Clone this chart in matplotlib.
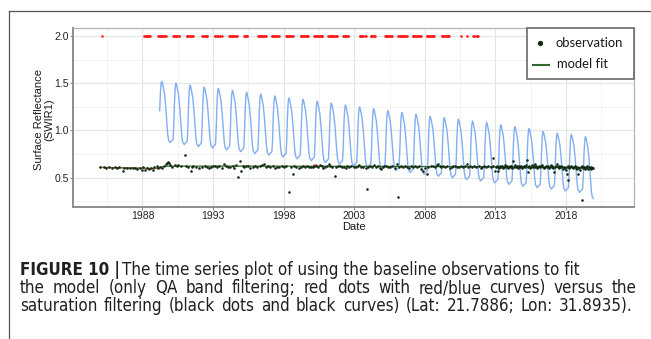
import matplotlib
matplotlib.use("Agg")
import os
import matplotlib.pyplot as plt
from matplotlib.ticker import MultipleLocator, FuncFormatter
from matplotlib.patches import Rectangle
from matplotlib.lines import Line2D
from matplotlib import font_manager
from matplotlib.font_manager import FontProperties

# ---------------- data ----------------
x_major_ticks = [1988, 1993, 1998, 2003, 2008, 2013, 2018]
y_major_ticks = [0.5, 1.0, 1.5, 2.0]

# saturated (QA-only) observations shown in red at 2.0
red_dates = [1985.15,
    1988.13, 1988.18, 1988.22, 1988.31, 1988.35, 1988.40, 1988.49, 1988.53,
    1989.12, 1989.16, 1989.25, 1989.29, 1989.34, 1989.38, 1989.47, 1989.51, 1989.60, 1989.66,
    1990.18, 1990.23, 1990.27, 1990.36, 1990.40, 1990.45, 1990.56, 1990.61,
    1991.13, 1991.18, 1991.22, 1991.31, 1991.40, 1991.44, 1991.53, 1991.60,
    1992.24, 1992.29, 1992.33, 1992.42, 1992.50, 1992.55, 1992.59,
    1993.13, 1993.17, 1993.26, 1993.30, 1993.35, 1993.48, 1993.52, 1993.61,
    1994.15, 1994.20, 1994.24, 1994.33, 1994.37, 1994.42, 1994.50, 1994.55, 1994.63, 1994.67,
    1995.19, 1995.24, 1995.32, 1995.37, 1995.42,
    1996.20, 1996.24, 1996.29, 1996.38, 1996.42, 1996.47, 1996.55, 1996.60, 1996.69, 1996.75,
    1997.15, 1997.20, 1997.24, 1997.33, 1997.37, 1997.46, 1997.50, 1997.58, 1997.67,
    1998.16, 1998.21, 1998.25, 1998.34, 1998.38, 1998.47, 1998.51, 1998.60, 1998.64,
    1999.20, 1999.24, 1999.29, 1999.37, 1999.42, 1999.46, 1999.55, 1999.59, 1999.68, 1999.72,
    2000.15, 2000.20, 2000.24, 2000.33, 2000.37, 2000.42, 2000.50, 2000.55, 2000.63, 2000.68, 2000.72,
    2001.16, 2001.21, 2001.25, 2001.34, 2001.38, 2001.43, 2001.51, 2001.56, 2001.65, 2001.69, 2001.74, 2001.80,
    2002.22, 2002.27, 2002.31, 2002.40, 2002.44, 2002.53, 2002.58,
    2003.40, 2003.44, 2003.49, 2003.58, 2003.62, 2003.75, 2003.83,
    2004.16, 2004.21, 2004.29, 2004.34, 2004.42, 2004.47,
    2005.17, 2005.22, 2005.26, 2005.35, 2005.39, 2005.44, 2005.52, 2005.57, 2005.65,
    2006.12, 2006.17, 2006.21, 2006.30, 2006.34, 2006.39, 2006.47, 2006.52, 2006.60, 2006.65, 2006.71,
    2007.14, 2007.19, 2007.23, 2007.32, 2007.36, 2007.41, 2007.49, 2007.54, 2007.62, 2007.66, 2007.70,
    2008.13, 2008.17, 2008.22, 2008.30, 2008.35, 2008.43, 2008.48, 2008.56, 2008.61, 2008.65,
    2009.19, 2009.23, 2009.28, 2009.36, 2009.41, 2009.49, 2009.54, 2009.62, 2009.67, 2009.73,
    2010.54, 2010.96,
    2011.43, 2011.48, 2011.65, 2011.70, 2011.78]
red_value = 2.0
red_low_dates = [2000.18, 2000.26]
red_low_vals = [0.632, 0.636]

# observations kept after saturation filtering (date, value)
obs_1985_1990 = [(1985.02, 0.617), (1985.25, 0.610), (1985.45, 0.605), (1985.60, 0.612), (1985.85, 0.608),
    (1986.05, 0.610), (1986.20, 0.603), (1986.35, 0.612), (1986.62, 0.575), (1986.70, 0.605),
    (1986.90, 0.600), (1987.10, 0.607), (1987.30, 0.598), (1987.45, 0.602), (1987.60, 0.590),
    (1987.80, 0.600), (1987.95, 0.585), (1988.05, 0.610), (1988.20, 0.580), (1988.32, 0.600),
    (1988.45, 0.595), (1988.60, 0.600), (1988.75, 0.585), (1988.85, 0.610), (1989.00, 0.620),
    (1989.10, 0.600), (1989.25, 0.615), (1989.40, 0.608), (1989.55, 0.620), (1989.65, 0.645),
    (1989.72, 0.660), (1989.80, 0.670), (1989.90, 0.655), (1989.95, 0.630)]
obs_1990_2000 = [(1990.10, 0.615), (1990.30, 0.630), (1990.45, 0.625), (1990.55, 0.635), (1990.75, 0.620),
    (1991.00, 0.745), (1991.10, 0.625), (1991.25, 0.615), (1991.41, 0.567), (1991.50, 0.610),
    (1991.60, 0.620), (1991.80, 0.612), (1992.00, 0.605), (1992.20, 0.615), (1992.40, 0.620),
    (1992.55, 0.610), (1992.70, 0.600), (1992.85, 0.615), (1993.00, 0.625), (1993.15, 0.620),
    (1993.30, 0.610), (1993.45, 0.620), (1993.60, 0.605), (1993.80, 0.640), (1993.90, 0.625),
    (1994.05, 0.615), (1994.20, 0.610), (1994.40, 0.620), (1994.50, 0.600), (1994.62, 0.630),
    (1994.76, 0.503), (1994.90, 0.680), (1995.00, 0.570), (1995.10, 0.620), (1995.20, 0.610),
    (1995.35, 0.620), (1995.50, 0.625), (1995.65, 0.605), (1995.80, 0.615), (1995.95, 0.620),
    (1996.10, 0.610), (1996.30, 0.625), (1996.45, 0.635), (1996.60, 0.640), (1996.75, 0.610),
    (1996.90, 0.620), (1997.05, 0.615), (1997.25, 0.620), (1997.40, 0.600), (1997.55, 0.610),
    (1997.70, 0.615), (1997.90, 0.620), (1998.00, 0.610), (1998.20, 0.620), (1998.38, 0.354),
    (1998.50, 0.615), (1998.66, 0.540), (1998.75, 0.620), (1998.90, 0.610), (1999.05, 0.605),
    (1999.20, 0.615), (1999.35, 0.620), (1999.50, 0.610), (1999.65, 0.625), (1999.80, 0.615),
    (1999.95, 0.610)]
obs_2000_2013 = [(2000.05, 0.615), (2000.15, 0.620), (2000.30, 0.625), (2000.40, 0.610), (2000.55, 0.630),
    (2000.70, 0.620), (2000.80, 0.605), (2000.95, 0.615), (2001.05, 0.620), (2001.20, 0.640),
    (2001.30, 0.625), (2001.45, 0.610), (2001.60, 0.520), (2001.70, 0.615), (2001.85, 0.620),
    (2002.00, 0.625), (2002.10, 0.610), (2002.25, 0.615), (2002.40, 0.600), (2002.50, 0.620),
    (2002.65, 0.615), (2002.80, 0.625), (2002.95, 0.610), (2003.10, 0.615), (2003.25, 0.625),
    (2003.35, 0.630), (2003.50, 0.615), (2003.65, 0.610), (2003.80, 0.600), (2003.93, 0.380),
    (2004.00, 0.615), (2004.10, 0.620), (2004.25, 0.610), (2004.40, 0.630), (2004.55, 0.615),
    (2004.65, 0.620), (2004.80, 0.605), (2004.90, 0.590), (2005.00, 0.615), (2005.10, 0.620),
    (2005.25, 0.625), (2005.40, 0.610), (2005.55, 0.615), (2005.70, 0.620), (2005.85, 0.600),
    (2006.00, 0.640), (2006.07, 0.300), (2006.15, 0.615), (2006.30, 0.620), (2006.45, 0.610),
    (2006.60, 0.625), (2006.75, 0.615), (2006.90, 0.605), (2007.00, 0.620), (2007.15, 0.615),
    (2007.30, 0.625), (2007.45, 0.610), (2007.60, 0.620), (2007.75, 0.590), (2007.90, 0.570),
    (2008.00, 0.600), (2008.13, 0.540), (2008.25, 0.615), (2008.40, 0.620), (2008.55, 0.625),
    (2008.70, 0.610), (2008.85, 0.630), (2008.95, 0.650), (2009.05, 0.620), (2009.15, 0.615),
    (2009.30, 0.625), (2009.45, 0.610), (2009.60, 0.620), (2009.75, 0.605), (2009.90, 0.615),
    (2010.00, 0.620), (2010.10, 0.625), (2010.25, 0.610), (2010.40, 0.615), (2010.55, 0.620),
    (2010.70, 0.610), (2010.85, 0.625), (2010.96, 0.640), (2011.05, 0.615), (2011.20, 0.620),
    (2011.35, 0.610), (2011.50, 0.625), (2011.65, 0.615), (2011.80, 0.620), (2011.95, 0.605),
    (2012.05, 0.615), (2012.20, 0.620), (2012.35, 0.610), (2012.50, 0.625), (2012.65, 0.615),
    (2012.79, 0.710), (2012.85, 0.620), (2012.96, 0.575)]
obs_2013_2020 = [(2013.05, 0.610), (2013.10, 0.620), (2013.16, 0.567), (2013.20, 0.615), (2013.27, 0.605),
    (2013.33, 0.625), (2013.40, 0.610), (2013.47, 0.620), (2013.53, 0.600), (2013.60, 0.615),
    (2013.67, 0.630), (2013.73, 0.610), (2013.80, 0.620), (2013.87, 0.605), (2013.93, 0.615),
    (2014.00, 0.625), (2014.07, 0.610), (2014.13, 0.620), (2014.20, 0.600), (2014.24, 0.680),
    (2014.30, 0.615), (2014.37, 0.630), (2014.43, 0.610), (2014.50, 0.620), (2014.57, 0.605),
    (2014.63, 0.615), (2014.70, 0.625), (2014.77, 0.610), (2014.83, 0.620), (2014.90, 0.600),
    (2014.97, 0.615), (2015.03, 0.625), (2015.10, 0.610), (2015.17, 0.630), (2015.21, 0.690),
    (2015.27, 0.615), (2015.32, 0.556), (2015.37, 0.620), (2015.43, 0.605), (2015.50, 0.615),
    (2015.57, 0.630), (2015.63, 0.610), (2015.70, 0.625), (2015.77, 0.640), (2015.83, 0.615),
    (2015.90, 0.620), (2015.97, 0.600), (2016.03, 0.615), (2016.10, 0.625), (2016.17, 0.610),
    (2016.23, 0.620), (2016.30, 0.635), (2016.37, 0.610), (2016.43, 0.600), (2016.50, 0.615),
    (2016.57, 0.625), (2016.63, 0.610), (2016.70, 0.620), (2016.77, 0.600), (2016.83, 0.615),
    (2016.90, 0.630), (2016.97, 0.610), (2017.03, 0.620), (2017.10, 0.605), (2017.16, 0.556),
    (2017.22, 0.615), (2017.28, 0.625), (2017.33, 0.640), (2017.40, 0.610), (2017.47, 0.620),
    (2017.53, 0.600), (2017.60, 0.615), (2017.67, 0.625), (2017.73, 0.610), (2017.80, 0.595),
    (2017.87, 0.615), (2017.93, 0.600), (2018.00, 0.580), (2018.04, 0.540), (2018.08, 0.610),
    (2018.11, 0.475), (2018.15, 0.620), (2018.22, 0.605), (2018.28, 0.615), (2018.35, 0.625),
    (2018.42, 0.610), (2018.48, 0.600), (2018.55, 0.615), (2018.62, 0.620), (2018.68, 0.605),
    (2018.75, 0.595), (2018.80, 0.610), (2018.86, 0.540), (2018.92, 0.600), (2018.98, 0.580),
    (2019.04, 0.615), (2019.10, 0.263), (2019.14, 0.620), (2019.20, 0.600), (2019.26, 0.610),
    (2019.32, 0.590), (2019.38, 0.615), (2019.44, 0.600), (2019.50, 0.620), (2019.56, 0.595),
    (2019.62, 0.610), (2019.68, 0.600), (2019.74, 0.615), (2019.80, 0.590), (2019.86, 0.605),
    (2019.93, 0.600)]

# model fit after saturation filtering (dark green) and QA-only fit (red / blue)
model_dates = [1985.0, 1988.9, 1989.6, 1995.0, 2005.0, 2013.0, 2019.93]
model_vals = [0.610, 0.598, 0.622, 0.623, 0.620, 0.615, 0.608]
red_fit_dates = [1985.0, 1987.0, 1989.2]
red_fit_vals = [0.608, 0.602, 0.596]

# QA-only seasonal fit (blue): yearly peak and following trough values
cycle_years = list(range(1989, 2020))
blue_peaks = [1.52, 1.50, 1.48, 1.46, 1.445, 1.425, 1.405, 1.385, 1.365, 1.345, 1.33, 1.31,
              1.29, 1.27, 1.25, 1.23, 1.21, 1.19, 1.17, 1.15, 1.135,
              1.12, 1.10, 1.085, 1.06, 1.04, 1.02, 0.99, 0.97, 0.957, 0.936]
blue_troughs = [0.87, 0.85, 0.83, 0.815, 0.795, 0.775, 0.755, 0.74, 0.72, 0.70, 0.68, 0.66,
                0.645, 0.625, 0.61, 0.59, 0.575, 0.555, 0.535, 0.515, 0.50,
                0.48, 0.465, 0.445, 0.43, 0.41, 0.395, 0.38, 0.36, 0.345, 0.27]
peak_phase = 0.37
blue_lead_dates = [1989.22, 1989.27, 1989.32]
blue_lead_vals = [1.21, 1.40, 1.50]
blue_end_date = 2019.93
blue_end_val = 0.28
# shape of one season (fraction of the way from trough to peak)
desc_phase = [0.0, 0.05, 0.12, 0.19, 0.27, 0.35, 0.42, 0.48, 0.59]
desc_frac = [1.0, 0.97, 0.88, 0.80, 0.60, 0.34, 0.13, 0.04, 0.0]
rise_phase = [0.68, 0.80, 0.85, 0.90, 0.95]
rise_frac = [0.03, 0.06, 0.30, 0.70, 0.93]

caption_bold = "FIGURE 10 |"
caption_l1 = "The time series plot of using the baseline observations to fit"
caption_l2 = "the model (only QA band filtering; red dots with red/blue curves) versus the"
caption_l3 = "saturation filtering (black dots and black curves) (Lat: 21.7886; Lon: 31.8935)."

# ---------------- figure ----------------
W, H = 651, 339
plt.rcParams['font.family'] = ['Liberation Sans', 'DejaVu Sans']
fig = plt.figure(figsize=(W / 100, H / 100), dpi=100)
fig.patch.set_facecolor('white')
renderer = fig.canvas.get_renderer()


def fx(x):
    return x / W


def fy(y):
    return 1 - y / H


ax = fig.add_axes([fx(73), fy(207), (634 - 73) / W, (207 - 28) / H])
ax.set_facecolor('white')

# blue curve
bx, by = list(blue_lead_dates), list(blue_lead_vals)
n = len(cycle_years)
for i in range(n):
    t0 = cycle_years[i] + peak_phase
    P, T = blue_peaks[i], blue_troughs[i]
    for ph, fr in zip(desc_phase, desc_frac):
        d = t0 + ph
        if d >= blue_end_date:
            break
        bx.append(d)
        by.append(T + fr * (P - T))
    if i + 1 < n:
        Pn = blue_peaks[i + 1]
        for ph, fr in zip(rise_phase, rise_frac):
            bx.append(t0 + ph)
            by.append(T + fr * (Pn - T))
bx.append(blue_end_date)
by.append(blue_end_val)
ax.plot(bx, by, color='#82aef2', lw=1.0, zorder=3, solid_joinstyle='round')

ax.plot(model_dates, model_vals, color='#2f6a2a', lw=0.9, zorder=4)
ax.plot(red_fit_dates, red_fit_vals, color='#d24a3a', lw=0.8, alpha=0.8, zorder=4)
ax.scatter(red_low_dates, red_low_vals, s=3, color='#ff2020', lw=0, zorder=4)

obs_all = obs_1985_1990 + obs_1990_2000 + obs_2000_2013 + obs_2013_2020
ax.scatter([d for d, v in obs_all], [v for d, v in obs_all], s=3.4, color='#0f2a10', lw=0, zorder=5)
ax.scatter(red_dates, [red_value] * len(red_dates), s=3.4, color='#ff1a1a', lw=0, zorder=6)

ax.set_xlim(1983.08, 2022.81)
ax.set_ylim(0.19, 2.085)
ax.xaxis.set_major_locator(MultipleLocator(5, offset=3))
ax.xaxis.set_minor_locator(MultipleLocator(2.5, offset=0.5))
ax.yaxis.set_major_locator(MultipleLocator(0.5))
ax.yaxis.set_minor_locator(MultipleLocator(0.25))
ax.xaxis.set_major_formatter(FuncFormatter(lambda v, p: f"{int(round(v))}"))
ax.yaxis.set_major_formatter(FuncFormatter(lambda v, p: f"{v:.1f}"))
ax.grid(which='major', color='#e4e4e4', lw=0.8)
ax.grid(which='minor', color='#f1f1f1', lw=0.6)
ax.set_axisbelow(True)
ax.tick_params(which='major', length=2.2, width=0.8, color='#888888', labelsize=7.5,
               labelcolor='#222222', pad=1.0)
ax.tick_params(which='minor', length=0)
for s in ['left', 'bottom']:
    ax.spines[s].set_color('#8c8c8c')
    ax.spines[s].set_linewidth(1.4)
for s in ['top', 'right']:
    ax.spines[s].set_color('#b4b4b4')
    ax.spines[s].set_linewidth(0.9)

fig.text(fx(44), fy(119.7), "Surface Reflectance\n(SWIR1)", rotation=90, ha='center', va='center',
         multialignment='center', fontsize=8, color='#1a1a1a', linespacing=1.1)
fig.text(fx(353.5), fy(226.5), "Date", ha='center', va='center', fontsize=8, color='#1a1a1a')


def text_width(txt, size, **kw):
    t = fig.text(0, 0, txt, fontsize=size, **kw)
    w = t.get_window_extent(renderer).width
    t.remove()
    return w


# legend (drawn as in the reference)
fig.add_artist(Rectangle((fx(527), fy(79)), (634 - 527) / W, (79 - 28.5) / H, transform=fig.transFigure,
                         facecolor='white', edgecolor='#6a6a6a', lw=1.2, zorder=10))
fig.add_artist(Line2D([fx(540)], [fy(43)], marker='o', markersize=2.8, color='#0f2a10', lw=0,
                      transform=fig.transFigure, zorder=11))
fig.add_artist(Line2D([fx(533), fx(549)], [fy(64.5), fy(64.5)], color='#2f6a2a', lw=1.5,
                      transform=fig.transFigure, zorder=11))
lfam = ['Lato', 'DejaVu Sans']
lfs = 10 * 68 / text_width("observation", 10, family=lfam)
fig.text(fx(555), fy(43), "observation", fontsize=lfs, family=lfam, va='center',
         ha='left', color='#1a1a1a', zorder=11)
fig.text(fx(557), fy(64.5), "model fit", fontsize=lfs, family=lfam, va='center',
         ha='left', color='#1a1a1a', zorder=11)

# outer frame lines
fig.add_artist(Line2D([fx(9), fx(651)], [fy(11), fy(11)], color='#555555', lw=0.9, transform=fig.transFigure))
fig.add_artist(Line2D([fx(9), fx(9)], [fy(11), fy(339)], color='#555555', lw=0.9, transform=fig.transFigure))

# caption: condensed face if one is installed, otherwise Liberation Sans
reg_path, bold_path = None, None
for f in font_manager.fontManager.ttflist:
    base = os.path.basename(f.fname).lower()
    if ('condensed' in base or 'narrow' in base) and 'sans' in base and 'mono' not in base \
            and 'oblique' not in base and 'italic' not in base and 'serif' not in base:
        if 'bold' in base:
            bold_path = bold_path or f.fname
        else:
            reg_path = reg_path or f.fname
if reg_path:
    fp_reg = FontProperties(fname=reg_path)
    fp_bold = FontProperties(fname=bold_path) if bold_path else FontProperties(family='Liberation Sans', weight='bold')
else:
    fp_reg = FontProperties(family='Liberation Sans')
    fp_bold = FontProperties(family='Liberation Sans', weight='bold')
ccol = '#231f20'


def cwidth(txt, size, fp):
    t = fig.text(0, 0, txt, fontproperties=fp.copy())
    t.set_fontsize(size)
    w = t.get_window_extent(renderer).width
    t.remove()
    return w


cfs = 10 * 598 / cwidth(caption_l3, 10, fp_reg)


def ctext(x, y, s, fp):
    t = fig.text(fx(x), fy(y), s, fontproperties=fp.copy(), va='baseline', ha='left', color=ccol)
    t.set_fontsize(cfs)
    return t


tb = ctext(20, 275, caption_bold, fp_bold)
bw = tb.get_window_extent(renderer)
ctext(bw.x1 + 2, 275, caption_l1, fp_reg)


def justified(line, x0, x1, ybase):
    words = line.split(' ')
    widths = [cwidth(wd, cfs, fp_reg) for wd in words]
    gap = (x1 - x0 - sum(widths)) / (len(words) - 1)
    x = x0
    for wd, w in zip(words, widths):
        ctext(x, ybase, wd, fp_reg)
        x += w + gap


justified(caption_l2, 20, 637, 293.3)
justified(caption_l3, 20, 633, 311.3)

fig.savefig("out.png", dpi=100, facecolor='white')
